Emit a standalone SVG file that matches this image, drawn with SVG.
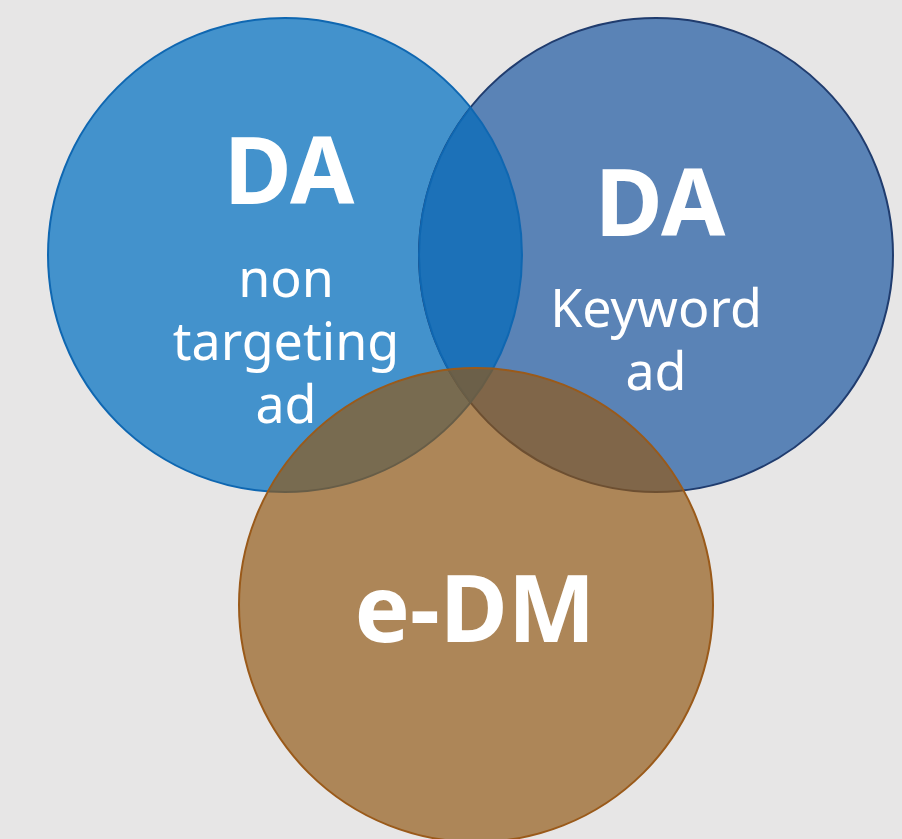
<svg xmlns="http://www.w3.org/2000/svg" width="902" height="839" viewBox="0 0 902 839">
<style>
.big{font-family:"Noto Sans","Open Sans",sans-serif;font-weight:700;font-size:93px;fill:#ffffff;text-anchor:middle}
.small{font-family:"Noto Sans","Open Sans",sans-serif;font-weight:400;font-size:52px;fill:#ffffff;text-anchor:middle}
</style>
<rect x="0" y="0" width="902" height="839" fill="#e7e6e6"/>
<g id="da-non-targeting">
<circle cx="285" cy="255" r="237" fill="#4392cc" stroke="#0f67b1" stroke-width="2"/>
</g>
<g id="da-keyword">
<circle cx="656" cy="255" r="237" fill="#5a83b6" stroke="#203c6e" stroke-width="2"/>
</g>
<g id="overlap-da">
<path d="M470.5 107.5 A237 237 0 0 1 470.5 402.5 A237 237 0 0 1 470.5 107.5 Z" fill="#1c71b8" stroke="#0f67b1" stroke-width="2"/>
</g>
<g id="labels-da">
<text class="big" x="289" y="204">DA</text>
<text class="small"><tspan x="286" y="297">non</tspan><tspan x="286" y="360">targeting</tspan><tspan x="286" y="423">ad</tspan></text>
<text class="big" x="660" y="236">DA</text>
<text class="small"><tspan x="656" y="327">Keyword</tspan><tspan x="656" y="390">ad</tspan></text>
</g>
<g id="e-dm">
<circle cx="476" cy="605" r="237" fill="#925914" fill-opacity="0.68" stroke="#9a5a1a" stroke-width="2"/>
<text class="big" x="475" y="642">e-DM</text>
</g>
<g id="connectors"/>
</svg>
